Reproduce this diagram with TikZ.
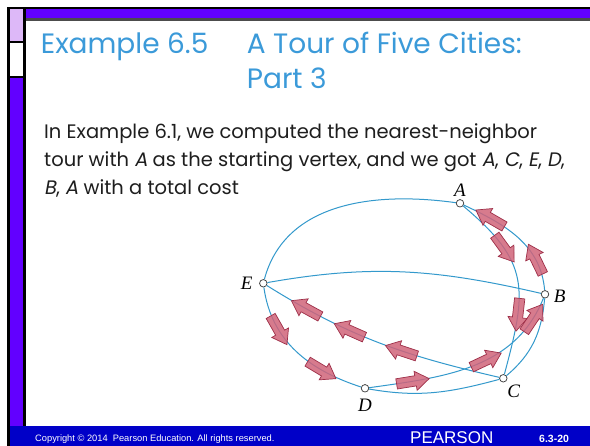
\documentclass[tikz,border=0pt]{standalone}
\usepackage{fontspec}
\setmainfont{Poppins}[ItalicFont=Poppins, ItalicFeatures={FakeSlant=0.18}]
\newfontfamily\cityfont{Liberation Serif}
\newfontfamily\footfont{Liberation Sans}
\usetikzlibrary{positioning,shapes.arrows}
\definecolor{barpurple}{HTML}{6200FF}
\definecolor{lightpurple}{HTML}{DDB8F8}
\definecolor{footblue}{HTML}{0000C8}
\definecolor{titleblue}{HTML}{3B9AD9}
\definecolor{bodygray}{HTML}{1E1E1E}
\definecolor{edgeblue}{HTML}{3399CC}
\definecolor{arrowfill}{HTML}{D0647A}
\definecolor{arrowedge}{HTML}{9E2F48}

\begin{document}
\begin{tikzpicture}[
    x=1pt, y=1pt,
    vertex/.style={circle, draw=black!75, fill=white, line width=0.75pt,
                   minimum size=7.5pt, inner sep=0pt},
    edge/.style={draw=edgeblue, line width=1pt},
    tourarrow/.style={single arrow, draw=arrowedge, fill=arrowfill, fill opacity=0.85,
                      line width=0.7pt, minimum height=33pt, minimum width=1pt,
                      inner xsep=0pt, inner ysep=4.8pt, single arrow head extend=4.5pt,
                      single arrow tip angle=70, sloped, allow upside down},
    city/.style={font=\cityfont\itshape\fontsize{19}{19}\selectfont, inner sep=0pt},
    title/.style={font=\fontsize{28}{34}\selectfont, text=titleblue, inner sep=0pt, anchor=base west},
    body/.style={font=\fontsize{19.5}{28}\selectfont, text=bodygray, inner sep=0pt, anchor=base west},
    foot/.style={text=white, inner sep=0pt, anchor=base west}
]
% slide frame
\fill[white] (0,0) rectangle (590,446);
\fill[black] (7,0) rectangle (590,439.3);
\fill[barpurple] (26,437) rectangle (590,427.7);
\fill[black!70] (26,427.7) rectangle (590,425.3);
\fill[lightpurple] (10,437) rectangle (23.3,405);
\fill[white] (10,403) rectangle (23.3,370);
\fill[barpurple] (10,368) rectangle (23.3,20);
\fill[white] (26,425.3) rectangle (590,20);
\fill[footblue] (10,0) rectangle (590,20);

% heading and text
\node[title] (ex) at (40.7,392) {Example 6.5};
\node[title] (tour) at (246.7,392) {A Tour of Five Cities:};
\node[title] (part) at (246.7,357) {Part 3};
\node[body] (line1) at (44,307) {In Example 6.1, we computed the nearest-neighbor};
\node[body] (line2) at (44,279) {tour with \textit{A} as the starting vertex, and we got \textit{A}, \textit{C}, \textit{E}, \textit{D},};
\node[body] (line3) at (44,251) {\textit{B}, \textit{A} with a total cost};

% cities
\node[vertex] (A) at (460,242.7) {};
\node[vertex] (B) at (545,151.7) {};
\node[vertex] (C) at (503.3,67.7) {};
\node[vertex] (D) at (365,57.7) {};
\node[vertex] (E) at (263.3,162.7) {};
\node[city, above=2.5pt of A] (lA) {A};
\node[city, right=4.5pt of B, yshift=-2pt] (lB) {B};
\node[city, below right=4pt and 1pt of C] (lC) {C};
\node[city, below=6pt of D] (lD) {D};
\node[city, left=6.5pt of E] (lE) {E};

% other roads
\draw[edge] (E) to[out=75, in=172] (A);
\draw[edge] (E) to[out=10, in=167] (B);
\draw[edge] (B) to[out=-95, in=40] (C);
\draw[edge] (C) to[out=195, in=-10] (D);

% nearest-neighbor tour
\draw[edge] (A) to[out=-40, in=75, looseness=1.3]
    node[tourarrow, pos=0.26] {} node[tourarrow, pos=0.7] {} (C);
\draw[edge] (C) to[out=167, in=-32]
    node[tourarrow, pos=0.38] {} node[tourarrow, pos=0.62] {} node[tourarrow, pos=0.82] {} (E);
\draw[edge] (E) to[out=-82, in=162]
    node[tourarrow, pos=0.28] {} node[tourarrow, pos=0.7] {} (D);
\draw[edge] (D) to[out=8, in=-112]
    node[tourarrow, pos=0.18] {} node[tourarrow, pos=0.55] {} node[tourarrow, pos=0.88] {} (B);
\draw[edge] (B) to[out=95, in=-25]
    node[tourarrow, pos=0.23] {} node[tourarrow, pos=0.75] {} (A);

% footer
\node[foot, font=\footfont\fontsize{9.3}{10}\selectfont] (copy) at (35,4)
    {Copyright \textcopyright{} 2014\ \ Pearson Education. All rights reserved.};
\node[foot, font=\footfont\fontsize{17}{17}\selectfont] (logo) at (410,2.2) {PEARSON};
\node[foot, font=\footfont\bfseries\fontsize{10.5}{11}\selectfont] (page) at (539,3) {6.3-20};
\end{tikzpicture}
\end{document}
